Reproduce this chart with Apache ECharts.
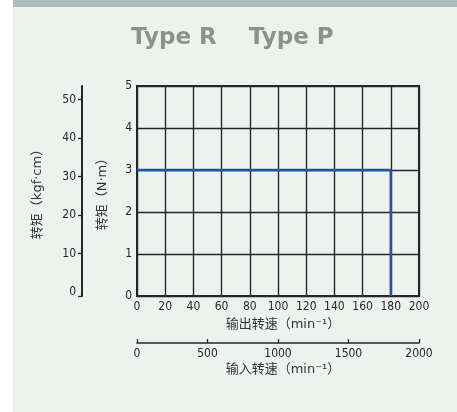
<!DOCTYPE html>
<html><head><meta charset="utf-8">
<script src="https://cdn.jsdelivr.net/npm/echarts@6/dist/echarts.min.js"></script>
<style>html,body{margin:0;padding:0;background:#fff}#c{width:457px;height:412px}</style>
</head><body><div id="c"></div>
<script>
const titleText = 'Type R    Type P';
const outSpeedTicks = [0, 20, 40, 60, 80, 100, 120, 140, 160, 180, 200];
const inSpeedTicks = [0, 500, 1000, 1500, 2000];
const torqueNmTicks = [0, 1, 2, 3, 4, 5];
const torqueKgfLabels = [0, 10, 20, 30, 40, 50];
const torqueKgfTicks = [-1, 10, 20, 30, 40, 50];
const curveSpeed = [0, 180, 180];
const curveTorque = [3, 3, 0];

const numFont = '"DejaVu Sans Condensed","Liberation Sans Narrow","Roboto Condensed",sans-serif';
const cjkFont = '"DejaVu Sans","Noto Sans CJK SC",sans-serif';
const dark = '#262626';
const plain = v => String(v);

const chart = echarts.init(document.getElementById('c'), null, {renderer: 'canvas'});
chart.setOption({
  animation: false,
  backgroundColor: '#eef2ef',
  graphic: [
    {type: 'rect', left: 0, top: 0, shape: {width: 13, height: 412}, style: {fill: '#ffffff'}, z: -10},
    {type: 'rect', left: 13, top: 0, shape: {width: 444, height: 7}, style: {fill: '#adb8bf'}, z: -10}
  ],
  title: {
    text: titleText, left: 126, top: 22,
    textStyle: {fontFamily: '"DejaVu Sans",sans-serif', fontWeight: 'bold', fontSize: 23, color: '#8b9389'}
  },
  grid: [
    {left: 137, right: 38, top: 86, bottom: 116, show: true, borderColor: dark, borderWidth: 2, backgroundColor: 'transparent'},
    {left: 137, right: 38, top: 342, height: 1},
    {left: 82, width: 1, top: 86, bottom: 116}
  ],
  xAxis: [
    {
      type: 'value', gridIndex: 0, min: 0, max: 200, interval: 20,
      axisLine: {show: false}, axisTick: {show: false},
      axisLabel: {fontFamily: numFont, fontSize: 12, color: dark, margin: 5, formatter: plain},
      splitLine: {show: true, lineStyle: {color: dark, width: 1.4}},
      name: '输出转速（min⁻¹）', nameLocation: 'middle', nameGap: 20,
      nameTextStyle: {fontFamily: cjkFont, fontSize: 13, color: '#333', padding: [0, 0, 0, 10]}
    },
    {
      type: 'value', gridIndex: 1, min: 0, max: 2000, interval: 500, position: 'bottom',
      axisLine: {show: true, onZero: false, lineStyle: {color: dark, width: 1.5}},
      axisTick: {show: true, inside: true, length: 4, lineStyle: {color: dark, width: 1.3}},
      axisLabel: {fontFamily: numFont, fontSize: 12, color: dark, margin: 5, formatter: plain},
      splitLine: {show: false},
      name: '输入转速（min⁻¹）', nameLocation: 'middle', nameGap: 20,
      nameTextStyle: {fontFamily: cjkFont, fontSize: 13, color: '#333', padding: [0, 0, 0, 10]}
    },
    {type: 'value', gridIndex: 2, show: false}
  ],
  yAxis: [
    {
      type: 'value', gridIndex: 0, min: 0, max: 5, interval: 1,
      axisLine: {show: false}, axisTick: {show: false},
      axisLabel: {fontFamily: numFont, fontSize: 12, color: dark, margin: 5, formatter: plain},
      splitLine: {show: true, lineStyle: {color: dark, width: 1.4}},
      name: '转矩（N·m）', nameLocation: 'middle', nameGap: 28, nameRotate: 90,
      nameTextStyle: {fontFamily: cjkFont, fontSize: 13, color: '#333'}
    },
    {type: 'value', gridIndex: 1, show: false},
    {
      type: 'value', gridIndex: 2, min: -1, max: 53.5, position: 'left',
      axisLine: {show: true, lineStyle: {color: dark, width: 2}},
      axisTick: {show: true, length: 4, customValues: torqueKgfTicks, lineStyle: {color: dark, width: 1.3}},
      axisLabel: {fontFamily: numFont, fontSize: 12, color: dark, margin: 6, customValues: torqueKgfLabels, formatter: plain},
      splitLine: {show: false},
      name: '转矩（kgf·cm）', nameLocation: 'middle', nameGap: 38, nameRotate: 90,
      nameTextStyle: {fontFamily: cjkFont, fontSize: 13, color: '#333'}
    }
  ],
  series: [{
    type: 'line', xAxisIndex: 0, yAxisIndex: 0,
    data: curveSpeed.map((s, i) => [s, curveTorque[i]]),
    symbol: 'none', lineStyle: {color: '#1d56a5', width: 2.5}, z: 5
  }]
});
</script></body></html>
